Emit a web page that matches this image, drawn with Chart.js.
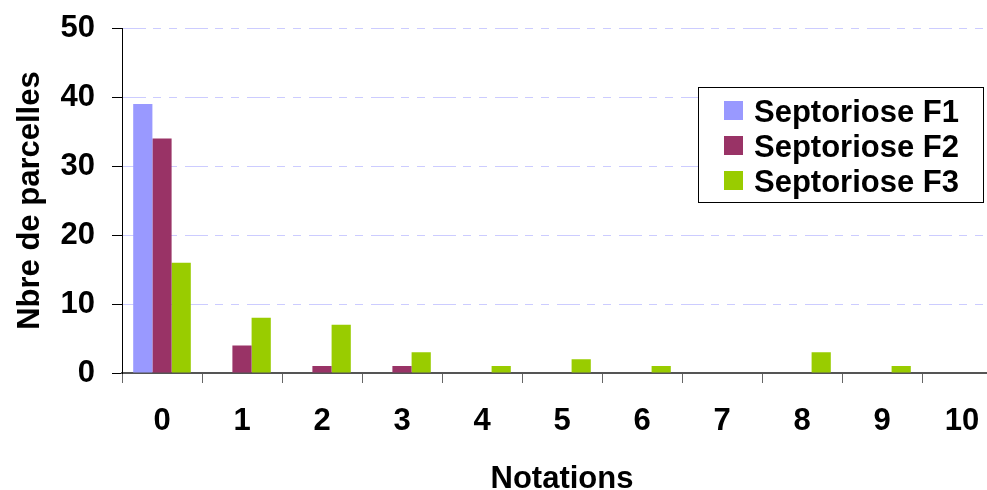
<!DOCTYPE html>
<html>
<head>
<meta charset="utf-8">
<script src="https://cdn.jsdelivr.net/npm/chart.js@4/dist/chart.umd.min.js"></script>
<style>
html,body{margin:0;padding:0;background:#fff;overflow:hidden;width:987px;height:490px;}
canvas{display:block;}
</style>
</head>
<body>
<canvas id="c" width="1005" height="490"></canvas>
<script>
const categories = ['0','1','2','3','4','5','6','7','8','9','10'];
const septF1 = [39,0,0,0,0,0,0,0,0,0,0];
const septF2 = [34,4,1,1,0,0,0,0,0,0,0];
const septF3 = [16,8,7,3,1,2,1,0,3,1,0];
const seriesLabels = ['Septoriose F1','Septoriose F2','Septoriose F3'];
const seriesColors = ['#9999ff','#993366','#99cc00'];
const yTicks = [0,10,20,30,40,50];

const FONT = '"Liberation Sans", Arial, sans-serif';
const FS = 31;

const legendBox = {
  id: 'legendBox',
  afterDraw(chart) {
    const ctx = chart.ctx;
    ctx.save();
    ctx.fillStyle = '#fff';
    ctx.fillRect(698.5, 87.5, 285, 115);
    ctx.strokeStyle = '#000';
    ctx.lineWidth = 1;
    ctx.strokeRect(698.5, 87.5, 285, 115);
    chart.data.datasets.forEach((ds, i) => {
      const cy = 111 + i * 35;
      ctx.fillStyle = ds.backgroundColor;
      ctx.fillRect(724, cy - 10, 19, 19);
      ctx.fillStyle = '#000';
      ctx.font = 'bold ' + FS + 'px ' + FONT;
      ctx.textBaseline = 'middle';
      ctx.textAlign = 'left';
      ctx.fillText(ds.label, 754, cy + 2);
    });
    ctx.restore();
  }
};

new Chart(document.getElementById('c'), {
  type: 'bar',
  data: {
    labels: categories,
    datasets: [
      {label: seriesLabels[0], data: septF1, backgroundColor: seriesColors[0]},
      {label: seriesLabels[1], data: septF2, backgroundColor: seriesColors[1]},
      {label: seriesLabels[2], data: septF3, backgroundColor: seriesColors[2]}
    ]
  },
  options: {
    responsive: false,
    animation: false,
    devicePixelRatio: 1,
    layout: {padding: {top: 0, right: 3, bottom: 0, left: 0}},
    datasets: {bar: {categoryPercentage: 0.72, barPercentage: 1.0}},
    plugins: {legend: {display: false}, tooltip: {enabled: false}},
    scales: {
      x: {
        grid: {display: true, drawOnChartArea: false, tickLength: 10, tickColor: '#666', color: '#666', offset: true},
        border: {display: true, color: '#555', width: 2},
        ticks: {color: '#000', padding: 23, font: {family: FONT, size: FS, weight: 'bold', lineHeight: 1}, maxRotation: 0, autoSkip: false},
        title: {display: true, text: 'Notations', color: '#000', font: {family: FONT, size: FS, weight: 'bold', lineHeight: 0.71}, padding: {top: 0, bottom: 0}},
        afterFit(s) { s.height = 117; }
      },
      y: {
        min: 0, max: 50,
        afterBuildTicks(s) { s.ticks = yTicks.map(v => ({value: v})); },
        grid: {display: true, color: '#ccccff', tickColor: '#000', tickLength: 10, lineWidth: 1},
        border: {display: true, color: '#000', width: 1, dash: [23,7,8,8,8,8]},
        ticks: {color: '#000', padding: 17, font: {family: FONT, size: FS, weight: 'bold', lineHeight: 0.72}},
        title: {display: true, text: 'Nbre de parcelles', color: '#000', font: {family: FONT, size: FS, weight: 'bold', lineHeight: 0.8}, padding: {top: 18, bottom: 0}},
        afterFit(s) { s.width = 122; }
      }
    }
  },
  plugins: [legendBox]
});
</script>
</body>
</html>
